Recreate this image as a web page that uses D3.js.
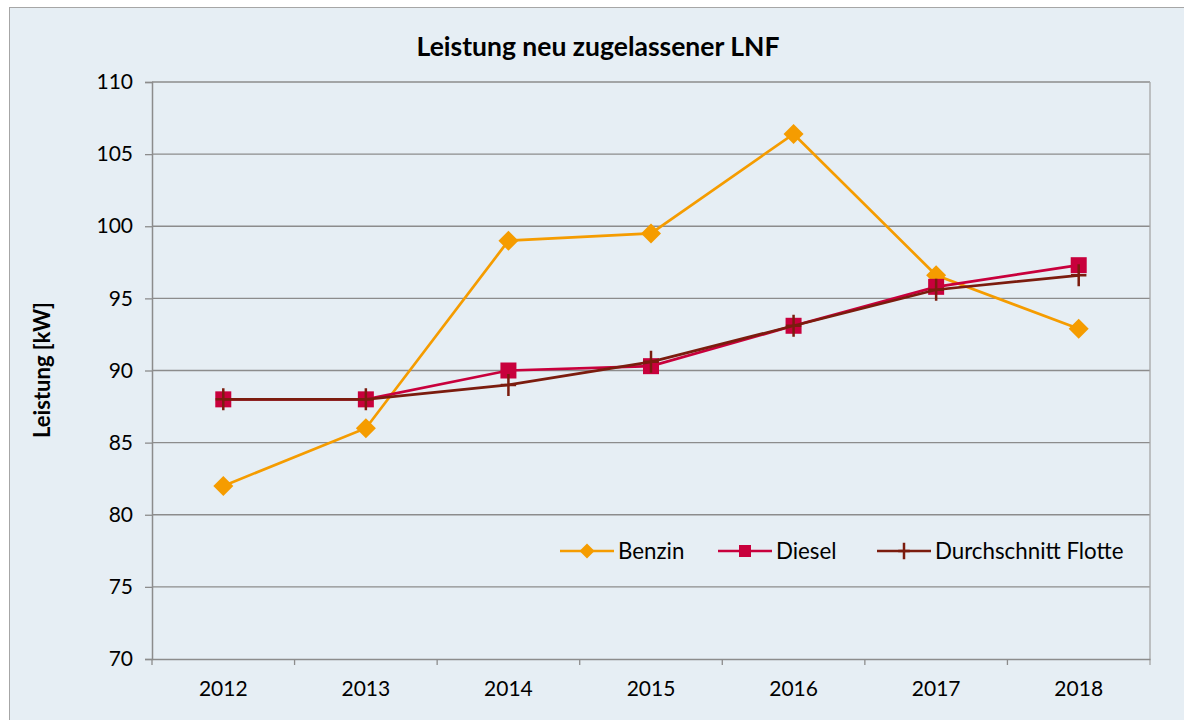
<!DOCTYPE html>
<html>
<head>
<meta charset="utf-8">
<script src="https://cdn.jsdelivr.net/npm/d3@7"></script>
<style>
  body { margin: 0; background: #fff; }
  text { font-family: Lato, "Open Sans", sans-serif; fill: #000; }
</style>
</head>
<body>
<div id="chart"></div>
<script>
// chart data
let years = ["2012", "2013", "2014", "2015", "2016", "2017", "2018"];
let benzin = [82, 86, 99, 99.5, 106.4, 96.6, 92.9];
let diesel = [88, 88, 90, 90.3, 93.1, 95.8, 97.3];
let flotte = [88, 88, 89, 90.6, 93.1, 95.6, 96.6];
let yTicks = [70, 75, 80, 85, 90, 95, 100, 105, 110];

let svgWidth = 1184;
let svgHeight = 720;

let margin = { top: 82, right: 34, bottom: 61, left: 152 };
let width = svgWidth - margin.left - margin.right;
let height = svgHeight - margin.top - margin.bottom;

let svg = d3.select("#chart").append("svg")
  .attr("width", svgWidth)
  .attr("height", svgHeight);

// background + outer frame
svg.append("rect")
  .attr("x", 9.5).attr("y", 7.5)
  .attr("width", svgWidth + 10).attr("height", svgHeight + 10)
  .attr("fill", "#e6eef4")
  .attr("stroke", "#a6a6a6")
  .attr("stroke-width", 1);

let g = svg.append("g")
  .attr("transform", `translate(${margin.left}, ${margin.top})`);

let x = d3.scaleBand().domain(years).range([0, width]);
let y = d3.scaleLinear().domain([70, 110]).range([height, 0]);

// grid
g.selectAll(".grid")
  .data(yTicks.filter(d => d > 70))
  .enter().append("line")
  .attr("x1", 0).attr("x2", width)
  .attr("y1", d => y(d)).attr("y2", d => y(d))
  .attr("stroke", "#8c8c8c").attr("stroke-width", 1.3);

// right border of plot
g.append("line")
  .attr("x1", width).attr("x2", width)
  .attr("y1", 0).attr("y2", height + 6)
  .attr("stroke", "#a6a6a6").attr("stroke-width", 1.3);

// axes
let leftAxis = d3.axisLeft(y).tickValues(yTicks).tickSize(7).tickPadding(12);
let yAxisG = g.append("g").call(leftAxis);
yAxisG.select(".domain").attr("stroke", "#8c8c8c").attr("stroke-width", 1.5);
yAxisG.selectAll(".tick line").attr("stroke", "#8c8c8c").attr("stroke-width", 1.3);
yAxisG.selectAll("text").style("font-size", "21px").attr("fill", "#000");

let bottomAxis = d3.axisBottom(x).tickSize(0).tickPadding(22);
let xAxisG = g.append("g")
  .attr("transform", `translate(0, ${height})`)
  .call(bottomAxis);
xAxisG.select(".domain").attr("stroke", "#8c8c8c").attr("stroke-width", 1.5);
xAxisG.selectAll("text").style("font-size", "21px").attr("fill", "#000");

// category separator ticks
xAxisG.selectAll(".sep")
  .data(years)
  .enter().append("line")
  .attr("x1", d => x(d)).attr("x2", d => x(d))
  .attr("y1", 0).attr("y2", 6)
  .attr("stroke", "#8c8c8c").attr("stroke-width", 1.3);

// title & axis label
svg.append("text")
  .attr("x", 598).attr("y", 56)
  .attr("text-anchor", "middle")
  .style("font-size", "26.5px").style("font-weight", "bold")
  .text("Leistung neu zugelassener LNF");

svg.append("text")
  .attr("transform", "rotate(-90)")
  .attr("x", -370).attr("y", 50)
  .attr("text-anchor", "middle")
  .style("font-size", "22px").style("font-weight", "bold")
  .text("Leistung [kW]");

let line = d3.line()
  .x((d, i) => x(years[i]) + x.bandwidth() / 2)
  .y(d => y(d));

let series = [
  { name: "Benzin", values: benzin, color: "#f59c00", marker: "diamond" },
  { name: "Diesel", values: diesel, color: "#c8003c", marker: "square" },
  { name: "Durchschnitt Flotte", values: flotte, color: "#7b1c0e", marker: "plus" }
];

function drawMarker(sel, type, color, scale) {
  if (type === "diamond") {
    let s = 10 * scale;
    sel.append("path")
      .attr("d", `M0,${-s}L${s},0L0,${s}L${-s},0Z`)
      .attr("fill", color);
  } else if (type === "square") {
    let s = 8 * scale;
    sel.append("rect")
      .attr("x", -s).attr("y", -s).attr("width", 2 * s).attr("height", 2 * s)
      .attr("fill", color);
  } else {
    let s = 11 * scale;
    sel.append("path")
      .attr("d", `M0,${-s}V${s}M${-s * 0.7},0H${s * 0.7}`)
      .attr("stroke", color).attr("stroke-width", 2.5);
  }
}

series.forEach(function(s) {
  g.append("path")
    .datum(s.values)
    .attr("fill", "none")
    .attr("stroke", s.color)
    .attr("stroke-width", 2.7)
    .attr("d", line);

  g.selectAll(".m-" + s.marker)
    .data(s.values)
    .enter().append("g")
    .attr("transform", (d, i) => `translate(${x(years[i]) + x.bandwidth() / 2}, ${y(d)})`)
    .each(function() { drawMarker(d3.select(this), s.marker, s.color, 1); });
});

// legend
let legendX = [560, 718, 877];
let legend = svg.selectAll(".legend")
  .data(series)
  .enter().append("g")
  .attr("transform", (d, i) => `translate(${legendX[i]}, 551)`);

legend.append("line")
  .attr("x1", 0).attr("x2", 54)
  .attr("stroke", d => d.color).attr("stroke-width", 2.7);

legend.append("g")
  .attr("transform", "translate(27, 0)")
  .each(function(d) { drawMarker(d3.select(this), d.marker, d.color, 0.75); });

legend.append("text")
  .attr("x", 58).attr("y", 8)
  .style("font-size", "22.3px")
  .text(d => d.name);
</script>
</body>
</html>
